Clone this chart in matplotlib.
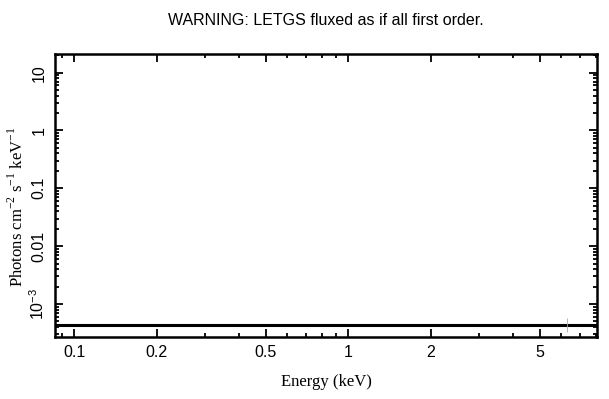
import matplotlib
matplotlib.use("Agg")
import matplotlib.pyplot as plt
from matplotlib.ticker import FixedLocator, NullFormatter, FixedFormatter
import numpy as np

# ---- data ----
energy = [0.07, 10.0]           # keV (flat spectrum across range)
flux = [4.3e-4, 4.3e-4]         # photons cm^-2 s^-1 keV^-1
err_energy = [6.3]
err_flux = [4.35e-4]
err_lo = [1.05e-4]
err_hi = [1.35e-4]

xticks = [0.1, 0.2, 0.5, 1, 2, 5]
xticklabels = ["0.1", "0.2", "0.5", "1", "2", "5"]
yticks = [10, 1, 0.1, 0.01, 1e-3]
yticklabels = ["10", "1", "0.1", "0.01", r"$\mathsf{10^{-3}}$"]

title = "WARNING: LETGS fluxed as if all first order."
xlabel = "Energy (keV)"
ylabel = r"Photons cm$^{-2}$ s$^{-1}$ keV$^{-1}$"

plt.rcParams["mathtext.fontset"] = "custom"
plt.rcParams["mathtext.rm"] = "Liberation Serif"
plt.rcParams["mathtext.sf"] = "Liberation Sans"
plt.rcParams["font.family"] = ["Liberation Sans", "DejaVu Sans"]

fig = plt.figure(figsize=(6.09, 3.99), dpi=100)
ax = fig.add_axes([55/609, 1-337/399, (597-55)/609, (337-54)/399])
ax.set_xscale("log")
ax.set_yscale("log")
ax.set_xlim(0.0852, 8.1)
ax.set_ylim(2.68e-4, 21)

ax.plot(energy, flux, color="black", lw=2.2, solid_capstyle="butt")
ax.errorbar(err_energy, err_flux, yerr=[err_lo, err_hi], fmt="none",
            ecolor="#aaaaaa", elinewidth=0.6)

ax.xaxis.set_major_locator(FixedLocator(xticks))
ax.xaxis.set_major_formatter(FixedFormatter(xticklabels))
xminor = [0.09, 0.3, 0.4, 0.6, 0.7, 0.8, 0.9, 3, 4, 6, 7, 8]
ax.xaxis.set_minor_locator(FixedLocator(xminor))
ax.xaxis.set_minor_formatter(NullFormatter())

ax.yaxis.set_major_locator(FixedLocator(yticks))
ax.yaxis.set_major_formatter(FixedFormatter(yticklabels))
yminor = [m * 10.0**e for e in range(-4, 2) for m in range(2, 10)]
ax.yaxis.set_minor_locator(FixedLocator(yminor))
ax.yaxis.set_minor_formatter(NullFormatter())

for s in ax.spines.values():
    s.set_linewidth(1.8)

ax.tick_params(which="both", direction="in", top=True, right=True,
               labelsize=11.5, width=1.3)
ax.tick_params(which="major", length=5.5)
ax.tick_params(which="minor", length=3)
ax.tick_params(axis="x", which="major", pad=6)
ax.tick_params(axis="y", which="major", pad=6, labelrotation=90)
for lab in ax.get_yticklabels():
    lab.set_va("center")

ax.set_title(title, fontsize=11.5, pad=21, family=["Liberation Sans", "DejaVu Sans"])
ax.set_xlabel(xlabel, fontsize=12, family="Liberation Serif", labelpad=10)
ax.set_ylabel(ylabel, fontsize=12, family="Liberation Serif")
ax.yaxis.set_label_coords(-0.052, 0.46)

fig.savefig("out.png", dpi=100)
